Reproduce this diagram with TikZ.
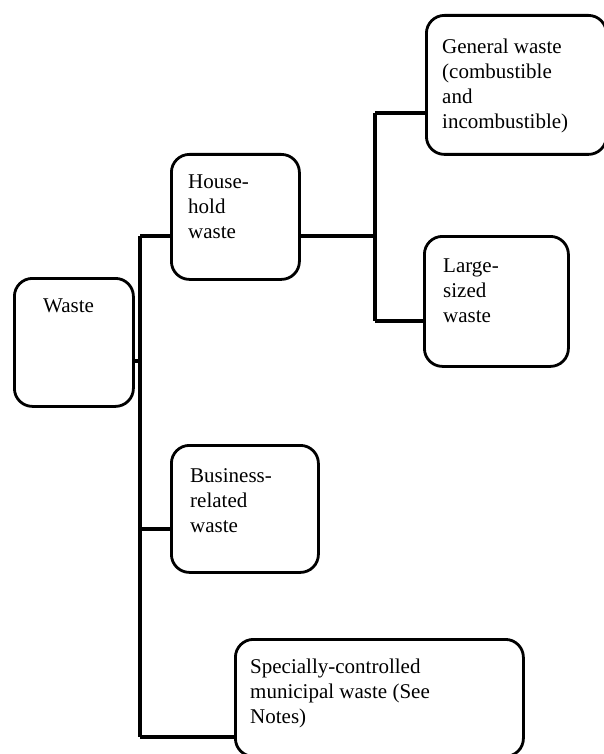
\documentclass[tikz,border=0pt]{standalone}
\usepackage{fontspec}
\setmainfont{Liberation Serif}
\begin{document}
\begin{tikzpicture}[x=1pt,y=-1pt,
  box/.style={draw=black, line width=2.8pt, rounded corners=18pt, rectangle, inner sep=0pt, anchor=north west},
  lbl/.style={anchor=north west, align=left, inner sep=0pt, font=\fontsize{21}{25}\selectfont},
  conn/.style={draw=black, line width=3.2pt}]
\useasboundingbox (0,0) rectangle (604,754);
% boxes
\node[box, minimum width=119pt, minimum height=128pt] (waste) at (13,277) {};
\node[box, minimum width=128pt, minimum height=125pt] (hh) at (170,153) {};
\node[box, minimum width=180pt, minimum height=139pt] (gen) at (425,14) {};
\node[box, minimum width=144pt, minimum height=130pt] (large) at (423,235) {};
\node[box, minimum width=147pt, minimum height=127pt] (bus) at (170,444) {};
\node[box, minimum width=288pt, minimum height=117pt] (spec) at (234,638) {};
% texts
\node[lbl] (twaste) at (43,299) {Waste};
\node[lbl] (thh) at (188,175) {House-\\hold\\waste};
\node[lbl] (tgen) at (442,39) {General waste\\(combustible\\and\\incombustible)};
\node[lbl] (tlarge) at (443,259) {Large-\\sized\\waste};
\node[lbl] (tbus) at (190,468) {Business-\\related\\waste};
\node[lbl] (tspec) at (250,659) {Specially-controlled\\municipal waste (See\\Notes)};
% junctions
\coordinate (trTop) at (140,236);
\coordinate (trWaste) at (140,361);
\coordinate (trBus) at (140,529);
\coordinate (trBot) at (140,737);
\coordinate (brTop) at (375,113);
\coordinate (brMid) at (375,236);
\coordinate (brBot) at (375,321);
% connectors
\draw[conn] (trTop) -- (trBot);
\draw[conn] (trTop) -- (hh.west |- trTop);
\draw[conn] (waste.east |- trWaste) -- (trWaste);
\draw[conn] (trBus) -- (bus.west |- trBus);
\draw[conn] (trBot) -- (spec.west |- trBot);
\draw[conn] (hh.east |- brMid) -- (brMid);
\draw[conn] (brTop) -- (brBot);
\draw[conn] (brTop) -- (gen.west |- brTop);
\draw[conn] (brBot) -- (large.west |- brBot);
\end{tikzpicture}
\end{document}
